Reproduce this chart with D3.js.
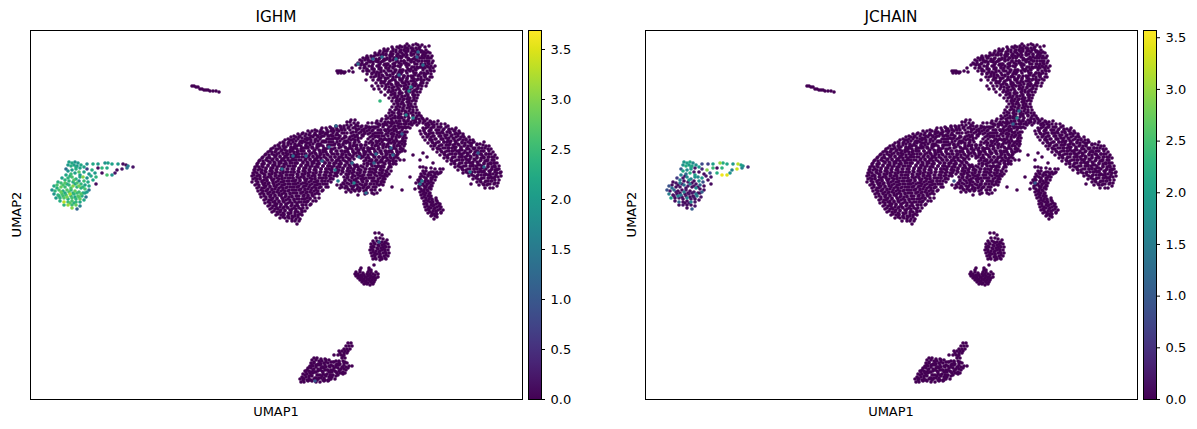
<!DOCTYPE html>
<html>
<head>
<meta charset="utf-8">
<script src="https://cdn.jsdelivr.net/npm/d3@7"></script>
<style>
html,body{margin:0;padding:0;background:#fff}
svg{display:block;font-family:"DejaVu Sans",sans-serif}
</style>
</head>
<body>
<svg id="fig" width="1197" height="429"></svg>
<script>
// Embedding coordinates of the cells with no signal in either gene.
// Each run is [umap2, umap1, umap1, ...]; the vertical embedding axis runs downward.
const cellRows = [
// upper lobe
[46,400,405,409],[45,413,418,422],[47,392,397,402],[48,407,411,416],[47,420,425],
[49,384,388,393],[50,396,401,404],[49,408,413],[50,417,420,426],[44,407,416],
[51,380,384,387],[52,391,396,400],[51,405,408,412],[52,416,421,424,428],[46,429],
[53,375,379,383],[54,386,391,393,398],[53,402,406,411],[54,414,418,423],[53,426,430],
[56,367,371,374],[55,378,381,386],[56,390,392,397,400],[55,403,407,412],[57,415,418],[56,422,425,428,432],
[58,363,368,372],[59,376,379,384,387],[58,390,395,398],[57,402,406],[59,409,413,416],[58,420,424,427,431],
[60,360,365,368],[61,371,376,378,383],[60,385,390,393],[61,397,401,404],[60,408,411,416],[61,419,422,427,429,433],
[63,358,362,367],[62,370,373,378,381],[64,385,388,393],[63,395,399,404,406],[62,411,414],[64,417,421,425],[63,428,432],
[65,356,361,364],[66,369,372,377],[65,379,384,387],[66,390,395,398],[65,401,406,409],[67,412,417,420],[66,424,427,431,435],
[68,360,364],[69,367,372,374,379],[68,381,386,389,393],[70,396,400,403],[69,408,411,415],[68,418,423,425,430,433],
[71,363,367,369],[72,374,377,381],[71,384,389,391],[72,395,399,402],[71,406,410,413],[73,416,421,424],[71,427,431,434],
[74,367,372,376],[75,379,382,387,390],[74,393,398,401],[76,404,408,413],[75,415,419,424],[74,426,431],
[77,371,374,379],[78,381,385,388],[77,393,396,399],[78,403,407,412],[79,414,418],[77,421,425,430,432],
[80,366,373,378],[81,381,385,390],[80,392,395,400,402],[81,406,411,413],[80,417,421,424,429],
[83,376,381,384],[84,388,391,396],[83,398,403,405],[84,409,413,416],[83,421,423,427],
[86,372,378,382],[87,386,389,394],[86,397,401,404],[87,408,412],[86,415,418,422,426],
[89,374,379,385],[90,389,393,396],[89,399,404,407],[90,410,415],[89,417,421],
[92,381,388,391],[93,395,399,402],[92,406,410,413,417,420],
[95,385,391,395],[96,398,402,405],[95,408,413,415,418],
[98,389,393,397],[99,400,404,407],[98,410,414,417],
[101,392,396,399],[102,402,407],[101,409,412,416],
[104,394,398,401],[105,404,408],[104,411,415],[107,392,396,400],[108,403,407],[107,409,413,416],
[110,390,395,399],[111,402,405,409],[110,413,417],
// infill of the upper lobe
[48,399,405,412,419],[51,386,393,400,407,414,422],[55,376,383,390,397,404,411,418,425],
[58,366,373,380,387,394,401,408,415,422,429],[61,362,369,376,383,390,397,404,411,418,425],
[64,359,366,373,380,387,394,401,408,415,422,429],[67,365,372,379,386,393,400,407,414,421,428],
[70,367,374,381,388,395,402,409,416,423,430],[73,372,379,386,393,400,407,414,421,428],
[76,376,383,390,397,404,411,418,425],[79,379,386,393,400,407,414,421,427],
[82,383,389,396,402,408,415,422],[85,386,392,399,406,413,420],[88,392,398,405,412,418],
[91,393,400,407,414],[94,393,400,407,413],[97,395,402,408,414],[100,397,403,409,414],
[103,397,403,409],[106,398,404,411],[109,397,403,410],[112,392,399,406,413],
[115,392,399,406,413,419],[118,388,395,402,409,416,422],[121,392,400,408,415,425],[124,378,385,392,399,406,426,432],
// outlying cells beside the upper lobe
[71,337,339,341],[72,343,345],[71,349],[72,353],[73,338,341,344],[68,352],
// central body with its left flank
[113,389,394,398],[114,401,405,408],[113,411,416,419],
[116,386,390,395],[117,398,401,405],[116,408,413,417,421],
[119,382,386,391],[118,393,398,400],[120,404,408,413],[119,416,419,423,427],
[120,351,355],[121,377,381],[122,385,388,392],[121,396,399,404],[122,406,411,416],[121,420,424,430],
[122,347,350],[123,354,358],[123,368,372,376],[124,379,383,386],[123,390,394,397],[124,401,404,409,411],[123,414,419,423,428],
[126,336,340,344],[125,347,351,356],[126,358,362,366],[127,369,374,376],[125,380,384,387],[126,391,395,398],[127,402,405,408],[125,412,417],
[128,322,326,331],[129,333,337,341],[128,344,348,353],[129,356,359,364],[128,366,370,375],[130,378,381,385],[129,388,393,396],[128,399,403,406,410],
[131,308,312,317],[132,320,323,328],[131,331,334,339],[130,342,345],[132,353,356,361],[131,364,367,372],[133,375,379,382],[131,386,389,394],[132,397,400,405,407],
[134,298,302,306],[135,309,314,316],[134,320,325,327],[135,331,336,338],[133,342,347],[135,354,357,362],[134,364,368,373],[136,375,379,384],[134,386,391,394],[135,397,401,405],
[137,291,296,299],[138,302,307,310],[137,313,318,321],[136,324,329,332],[138,335,339,344],[137,346,350,355],[138,358,361],[137,370,375,378],[139,381,385,389],[137,392,396,399],[138,403,406],
[140,285,290,292],[141,296,301,303],[140,307,311,315],[141,318,323,325],[139,329,333,337],[141,340,345,347],[140,351,355,358],[141,371,376,379],[140,383,387,390],[141,394,397,402,405],
[143,280,284,288],[144,291,295,299],[143,302,307,309],[144,313,318,320],[142,324,329,331],[144,335,339,343],[143,346,350,354],[145,357,361,366],[143,369,373,377],[144,380,384,388],[143,391,395,399],[144,402,405],
[146,275,279,283],[147,286,291,294],[146,297,301,306],[147,308,312,317],[146,319,323,328],[145,330,334,339],[147,341,345,350],[146,353,356,361],[148,364,368,372],[146,375,378,383],[147,386,389,394],[146,397,400,404],
[149,271,276,278],[150,282,285,290],[149,293,297,301],[148,304,308,312],[150,315,319,323],[149,326,331,333],[151,337,341,345],[149,348,352,356],[150,359,363,368],[149,370,374,378],[151,381,385,389],[149,392,396,400,403],
[152,268,272,275],[153,279,283,286],[152,290,294,297],[151,301,304,309],[153,312,315,320],[152,323,326,331],[154,334,337,342],[152,345,348,353],[153,356,359,364],[152,366,370,375],[153,377,381,386],[152,389,392,397,400],
[155,265,269,274],[156,276,280,285],[155,287,291,296],[154,298,302,306],[156,309,313,317],[155,320,324,328],[157,331,335,339],[155,342,346,350],[156,353,357,361],[155,364,368,373],[157,375,379,383],[155,386,390,394,397],
[158,262,267,270],[159,273,277,282],[158,284,288,293],[157,295,299,304],[159,306,310,315],[158,317,321,326],[160,328,332,337],[158,339,343,348],[159,350,354],[158,361,366,369],[160,372,376,381],[158,383,387,391,394,398],
[161,259,263,268],[162,270,274,279],[161,281,285,290],[160,292,296,301],[162,303,307,312],[161,314,318,323],[163,325,329,334],[161,336,340,345],[162,347,351],[161,364,369,371],[162,375,380,382],[161,386,390,393,396],
[164,257,262,264],[165,268,273,275],[164,279,284,286],[163,290,295,297],[165,301,306,308],[164,312,317,319],[166,323,328,330],[164,334,339,341],[165,345,349,354,357],[164,364,368,371],[166,375,379,382],[164,385,390,393,396],
[167,255,259,263],[168,266,271,273],[167,277,282,284],[166,288,293,295],[168,299,304,306],[167,310,315,318],[169,321,326,329],[167,332,337,340],[168,343,348,351],[167,355,358,363],[169,366,370,373],[167,377,381,384,389,391],
[170,254,258,262],[171,265,270,272],[170,276,281,283],[169,287,292,294],[171,298,303,305],[170,309,314,316],[172,320,325,327],[170,331,336,339],[171,342,347,350],[170,353,358,361],[172,364,369,372],[170,375,380,383],[171,386,391],
[173,253,257,262],[174,264,269,272],[173,275,280,283],[172,286,291,294],[174,297,302,305],[173,308,313,316],[175,319,324,326],[173,330,335,337],[174,341,346,349],[173,352,357,360],[175,363,368,371],[173,374,379,382],[174,385,389],
[176,252,257,260],[177,264,268,271],[176,275,279,282],[175,286,290,293],[177,297,301,304],[176,308,312,315],[178,319,323,326],[176,329,334,337],[177,344,348,352],[176,355,360,362],[178,366,371,373],[176,377,382,384,387],
[179,253,257,260],[180,264,267,272],[179,274,279,282],[178,285,290,293],[180,296,300,305],[179,307,312,315],[181,318,322,325],[179,330,333],[180,345,349,354],[179,356,361,364],[181,367,372,375],[179,378,383,385],
[182,252,258,262],[183,265,269,273],[182,276,281,283],[181,287,292,294],[183,298,303,305],[182,309,314,316],[184,320,325,327],[182,331],[183,343,347,352],[182,355,358,363],[184,366,370,374],[182,377,381,384],
[185,255,259,264],[186,266,270,274],[185,277,282,284],[184,288,293,295],[186,299,304,306],[185,310,315,317],[187,321,326,328],[185,337,341],[186,346,351,354],[185,357,362,365],[187,368,373,376],[185,379,383],
[188,257,262,264],[189,268,272,275],[188,279,283,286],[187,290,294,297],[189,301,305,308],[188,312,316,319],[190,323],[188,340,345],[189,348,352,357],[188,360,363,367],[190,371,375,380],
[191,258,263,266],[192,270,274,277],[191,281,285,288],[190,292,296,299],[192,303,307,310],[191,314,318,322],[192,346,351],[191,355,359,364],[193,367,372,377],
[194,260,264,268],[195,271,275,279],[194,282,286,290],[193,293,297,301],[195,304,308,312],[194,315,319],[195,358],[194,365,374],
[197,261,266,270],[198,273,277,282],[197,285,289,292],[196,296,299,304],[198,307,310,315,319],
[200,264,269,271],[201,275,279,283],[200,286,290,294],[199,297,302,304],[201,308,313,316],
[203,265,270,275],[204,277,281,286],[203,288,292,297],[202,299,304,307],[204,311],
[206,268,273,276],[207,280,284,287],[206,291,295,298],[205,302,306,310],
[209,270,275,278],[210,281,285,290],[209,292,296,301],[208,303,307],
[212,272,277,280],[213,283,288,291],[212,295,298,302],[211,305],
[215,276,281,284],[216,288,292,295],[215,298,302],
[218,280,285,289],[219,292,296,300],[221,287,292,295,299],[224,297],
[160,400,404],[151,405],
// infill of the central body
[127,330,336,341,349,355,361,367,372,378,383,389,394,400,405],
[130,315,321,327,332,337,350,357,362,369,373,380,385,391,396,402],
[133,303,310,315,322,326,333,337,344,351,359,365,370,377,381,388,392,399,403],
[136,294,300,305,311,318,322,328,333,340,345,352,357,363,372,377,382,388,393,400,404],
[139,288,294,298,305,309,316,320,327,331,337,342,349,353,368,373,380,385,392,396,403],
[142,283,289,293,300,305,311,315,322,326,333,337,344,348,355,359,366,371,377,382,389,393,400,404],
[145,278,284,288,295,299,306,310,317,321,328,332,339,343,350,354,361,365,372,376,383,387,394,398],
[148,273,280,284,291,295,302,306,313,317,324,328,335,339,346,350,357,361,368,372,379,383,390,394,401],
[151,270,276,281,287,292,298,303,309,314,320,325,331,336,342,347,353,358,364,369,375,380,386,391,397,402],
[154,266,272,277,283,288,294,299,305,310,316,321,327,332,338,343,349,354,360,365,371,376,382,387,393,398],
[157,263,269,275,280,286,291,297,302,308,313,319,324,330,335,341,346,352,363,368,374,379,385,390,396],
[160,260,266,272,277,283,288,294,299,305,310,316,321,327,332,338,343,349,366,371,377,382,388,393],
[163,258,264,270,275,281,286,292,297,303,308,314,319,325,330,336,341,347,352,367,373,378,384,389,394],
[166,257,262,268,273,279,284,290,295,301,306,312,317,323,328,334,339,345,350,356,361,367,372,378,383,390],
[169,255,260,266,271,277,282,288,293,299,304,310,315,321,326,332,337,343,348,354,359,365,370,376,381,388],
[172,255,261,266,272,277,283,288,294,299,305,310,316,321,327,332,338,343,349,354,360,365,371,376,382,387],
[175,254,259,265,270,276,281,287,292,298,303,309,314,320,325,331,336,347,353,358,364,369,375,380,386],
[178,255,260,266,271,277,282,288,293,299,304,310,315,321,326,331,347,352,358,363,369,374,380,384],
[181,256,262,267,273,278,284,289,295,300,306,311,317,322,328,345,351,356,362,367,373,378,382],
[184,257,263,268,274,279,285,290,296,301,307,312,318,323,344,349,355,360,366,371,377,381],
[187,259,265,270,276,281,287,292,298,303,309,314,320,342,347,353,358,364,369,375],
[190,261,267,272,278,283,289,294,300,305,311,316,349,354,360,366,372],
[193,262,268,273,279,284,290,295,301,306,312,317],
[196,264,270,275,281,286,292,297,303,308,313],
[199,266,272,277,283,288,294,299,305,310],
[202,268,273,279,284,290,295,301,306],
[205,270,275,281,286,292,297,303],
[208,272,277,283,288,294,299],
[211,274,280,285,291,296,302],
[214,278,284,289,295,300],
[217,283,288,293,298],
// right wing
[122,431,434],[121,438],[125,426,429,434],[124,437,441,445],[126,448],
[128,423,426,431],[127,433,438,441],[129,444,449,452],[128,456],
[131,420,424,429],[130,431,436,439],[132,442,447,450],[131,454,459],
[134,421,426,429],[133,433,437,440],[135,445,447,452],[134,455,458,463],
[137,423,427,431],[136,434,439,441],[138,446,449,453],[137,456,461,464,469],
[140,425,430,432],[139,436,441,443],[141,448,451,455],[140,458,463,466,470,473],
[143,428,433,436],[142,439,444,447],[144,450,455,458],[143,462,465,470,472],[144,477,480],[142,484],
[146,431,434,439],[145,442,446,449],[147,454,456,461],[146,464,468,471],[148,475,479,482],[146,486,489],
[149,433,438,440],[148,445,448,452],[150,455,460,462],[149,467,469,474],[151,477,481,484],[149,488,491],
[152,437,442,445],[151,449,452,457],[153,459,464,467],[152,470,475,478],[154,481,486,489],[152,493],
[155,440,445,448],[154,452,455,460],[156,462,467,470],[155,474,477,482],[157,484,488,492],[155,495],
[158,444,448,452],[157,455,460,462],[159,466,470,474],[158,477,481,484],[160,488,492,494],[158,497],
[161,447,452,455],[160,459,462,467],[162,469,473,477],[161,480,485,487],[163,491,494,497],
[164,451,455,459],[163,462,466,470],[165,473,478,480],[164,484,488,491],[166,495,499],
[167,455,460,462],[166,466,471,473],[168,477,482,484],[167,488,492,495],[169,499],
[170,458,463,466],[169,470,474,477],[171,481,484,489],[170,491,495,497],[172,501],
[173,463,468,471],[172,475,479,482],[174,486,490,493],[173,497,500],
[176,469,474,477],[175,481,485,488],[177,491,495,498],[176,501],
[179,473,478,481],[178,484,489,492],[180,495,499],
[182,477,481,485],[181,488,491],[183,495,498],
[185,479,484,487],[184,490,494],[186,497],[188,485,490,493],[184,471],
// infill of the right wing
[127,428,434,440,446],[130,424,430,437,443,449,455],[133,425,431,438,443,450,456,460],
[136,428,433,440,445,451,458,463],[139,430,435,442,448,454,460,466],[142,432,438,444,450,456,462,468,474],
[145,435,441,447,453,459,465,471,477,483],[148,437,443,449,455,461,467,473,479,485],
[151,441,447,453,459,465,471,477,483,489],[154,444,450,456,462,468,474,480,486,491],
[157,447,453,459,465,471,477,483,489,494],[160,451,457,463,469,475,481,487,493],
[163,454,460,466,472,478,484,490,495],[166,458,464,470,476,482,488,494],
[169,462,468,474,480,486,492,497],[172,466,472,478,484,490,495],[175,472,478,484,490,496],
[178,476,482,488,494],[181,480,486,492],[184,483,488],
// lower leg and its stragglers
[155,413],[153,423],[160,420],[157,427],[163,433],[167,420,423],[177,410],[187,392],[190,402],
[168,426,431],[169,435,440,443],
[171,423,426],[172,431,433,437,441],
[174,421,425],[175,428,431],[174,435,438],
[177,420,424],[178,426,431],[177,433,436],
[180,418,421],[181,425,428],[180,431,435],
[183,416,420],[184,423,427],[183,429,433],
[186,419,424],[187,426,430],[186,432],
[189,415,421],[190,424,427],[189,431],
[192,420,424],[193,426,430],
[195,421,425],[196,428,431],
[198,422,426],[199,429,432],[198,436],
[201,424,428],[202,430,433],[201,437],
[204,424,427],[205,431,434],[204,436,440],
[207,425,429],[208,431,435],[207,437,441],
[210,426,429],[211,433,436],[210,438,443],
[213,428,432],[214,434,437],[213,441],
[216,431,435],[217,437],[219,434],
[173,424,429,435,440],[176,422,428,434],[179,420,426,432],[182,419,425,431],[185,421,427,431],
[188,419,425,429],[191,422,428],[194,423,429],[197,424,430],[200,426,432,436],[203,426,432,438],
[206,427,433,439],[209,428,434,440],[212,430,436,441],[215,432,436],
// thin strand near the top left
[86,192,194],[87,196,198],[89,200,202],[90,204,206,208],[91,210,213,216],[92,219],
// isolated clusters under the body
[233,375,379],[235,382],[240,387],
[238,376,380],[239,383],
[241,373,377],[242,379,382,385],
[244,371,375],[245,378,382],[244,384,388],
[247,371,374],[248,377,381],[247,383,386,389],
[250,370,373],[251,376,380],[250,382,385,388],
[253,371,375],[254,377,380],[253,383,386,389],
[256,372,375],[257,379,381],[256,384,388],
[259,373,376],[260,380],[259,382,386],
[243,374,380,386],[246,373,379,385],[249,372,378,384],[252,373,379,385],[255,374,380,386],[258,375,381,385],
[265,374],[268,361,369],
[270,360,369,371],
[272,356,360],[273,363],[272,368,371,376],
[274,355,358],[275,361,364],[274,367,370,373,378],
[276,356,359],[277,362,365],[276,368,371],[277,374,378],
[278,358,361],[279,364,367],[278,370,373,376],
[280,360,363],[281,366],[280,369,372,375],
[282,362,366],[283,368],[282,371,374],
[284,364,367],[285,370],[284,373],
[275,357,363,369,375],[277,360,366,372],[279,362,368,374],[281,364,370],[283,366,372],
// cluster at the bottom
[343,348,351],[346,346,349,352],[349,344,347,350],[351,339,342,345,348],
[353,340,344,347],[355,334,338,341,344],[356,343],
[358,314,317],[359,321,325],[358,342,345],
[360,312,316],[361,319,322],[360,326,329],[361,336,339,343],
[363,311,314],[364,318,321],[363,324,328],[362,331,334],[364,337,340],[363,344,347],
[366,310,313],[365,316,320],[367,323,326],[366,329,333],[365,336,339],[367,342,346],[366,349,352],
[368,308,311],[369,314,318],[368,321,324],[370,328,331],[368,334,338],[369,341,344],[368,348],
[371,305,309],[372,312,315],[371,318,322],[370,325],[372,329,332],[371,335,339],[373,342,345],
[374,303,307],[373,310,313],[375,317,320],[374,323,327],[375,330,333],[373,337,340],[374,343],
[377,302,306],[376,309,312],[378,315,319],[376,322,326],[377,329,332],[376,336],
[379,300,304],[380,307,311],[379,314,318],[378,321],[380,325,328],[379,331,335],
[382,301,304],[381,308,312],[382,316,320],[381,324,328],
[362,314,320,326,333,339,345],[365,312,318,325,331,338,344],[367,310,316,322,330,336,343],
[370,307,313,320,327,333,340,346],[372,306,310,316,323,330,336,343],[375,305,311,318,325,331,338],
[378,303,309,316,324,330],[380,303,309,317,323,329]
];

// Cells of the small plasma cluster: [umap1, umap2, IGHM, JCHAIN].
const plasmaCells = [
[69,162,2.1,1.9],[72,163,2.2,2.0],[75,162,1.9,2.1],[78,163,2.0,1.7],[81,165,2.2,1.8],
[68,165,2.0,1.8],[71,166,2.3,2.2],[74,165,2.1,1.9],[77,166,1.9,2.0],[87,164,1.8,0.8],
[93,164,2.2,0.7],[98,164,2.0,2.0],[105,163,1.9,3.0],[108,163,2.1,2.2],[112,164,2.1,2.1],
[118,164,2.0,1.9],[123,164,0.1,3.2],[128,166,1.5,1.8],[133,167,0.2,0.4],[126,165,0.1,2.0],
[87,169,0.7,0.4],[92,170,2.3,2.9],[98,168,0.1,2.4],[102,168,2.4,0.1],[107,168,2.2,2.3],
[95,173,2.0,0.9],[102,173,0.1,2.2],[112,175,1.9,3.4],[117,170,0.1,1.6],[122,169,0.2,3.3],
[127,168,1.4,1.5],[107,175,2.6,3.5],[115,173,0.2,1.8],[89,174,1.9,0.1],[84,172,2.1,0.1],
[80,168,2.1,0.2],[72,170,2.0,1.7],[76,169,2.3,1.8],[68,171,1.9,2.1],[71,174,2.5,1.3],
[75,173,2.1,2.2],[79,172,2.7,0.2],[83,177,3.0,1.7],[66,175,2.2,1.6],[87,178,1.9,1.9],
[91,176,2.2,0.2],[93,180,2.1,0.1],[96,184,0.1,0.1],[62,178,2.1,0.6],[65,180,2.4,1.4],
[68,178,2.4,0.2],[72,177,2.6,1.7],[76,179,2.3,1.5],[80,177,2.1,1.8],[84,181,2.5,1.8],
[88,182,2.2,0.9],[58,182,2.3,0.1],[61,183,2.5,0.2],[65,183,2.7,1.5],[69,181,2.4,0.1],
[73,182,2.3,0.2],[77,183,2.6,0.1],[81,184,2.4,0.2],[85,185,2.1,1.2],[89,186,2.2,0.1],
[54,186,2.2,0.9],[57,185,2.6,0.1],[61,187,2.8,0.1],[65,187,2.5,0.2],[69,185,2.4,1.3],
[73,186,3.0,0.2],[77,187,2.4,0.1],[81,188,2.3,1.7],[85,189,2.6,0.1],[89,190,1.4,0.1],
[52,190,1.8,0.9],[55,191,2.4,0.2],[59,190,2.6,1.2],[63,191,2.3,0.1],[67,190,2.7,0.1],
[71,190,2.4,0.2],[75,191,2.8,0.1],[79,192,2.5,0.2],[83,193,2.2,0.1],[87,192,2.0,1.1],
[54,194,1.9,1.5],[58,195,2.4,0.1],[62,194,2.6,0.1],[66,195,2.5,1.4],[70,194,3.2,0.1],
[74,194,2.4,0.2],[78,196,2.7,0.1],[82,196,2.3,1.5],[86,197,1.4,0.2],[56,198,2.0,2.0],
[60,198,2.4,0.1],[64,198,2.7,0.2],[68,199,2.3,0.1],[72,198,2.6,1.6],[76,199,2.4,0.2],
[80,199,2.8,0.1],[84,200,2.2,0.1],[60,201,2.3,0.1],[64,202,3.3,1.2],[68,202,2.5,0.1],
[72,201,2.6,0.1],[76,202,2.4,1.6],[80,202,2.2,0.2],[64,205,2.4,0.1],[68,205,3.1,0.2],
[72,205,2.5,0.1],[76,205,2.8,0.1],[80,206,1.6,0.2],[72,208,3.0,0.1],[77,209,1.2,1.0],
[80,175,2.0,2.0],[84,167,2.1,1.9],[76,167,2.2,2.1],[66,169,1.3,1.0],[96,177,2.4,0.2],
[70,176,2.3,0.2],[74,180,2.7,1.9],[79,181,1.8,0.1],[63,185,2.6,0.1],[67,184,2.2,0.2],
[71,188,2.6,0.1],[75,184,2.1,1.4],[79,186,2.9,0.2],[83,187,2.4,0.1],[57,188,2.3,1.3],
[61,192,2.8,0.2],[65,193,2.2,0.1],[69,192,2.6,1.5],[73,193,2.3,0.1],[77,193,2.5,0.2],
[81,194,2.7,1.4],[85,193,2.1,0.1],[59,196,2.3,0.2],[63,196,2.5,1.6],[67,197,2.9,0.1],
[71,196,2.4,0.2],[75,197,2.2,0.1],[79,197,2.6,0.2],[70,203,2.7,0.1],[74,203,2.3,0.2]
];

// Cells elsewhere that express one of the genes: [umap1, umap2, value].
const ighmOutliers = [
[336,126,1.3],[329,147,1.2],[306,156,1.3],[293,156,1.3],[322,161,1.2],[282,169,1.4],
[335,170,1.5],[338,181,1.5],[354,183,1.7],[366,193,1.4],[352,163,1.3],[359,157,1.2],
[376,154,1.3],[374,163,1.2],[391,148,1.1],[393,155,1.2],[402,134,1.1],[406,115,1.7],
[413,118,1.6],[422,181,1.5],[420,184,1.4],[478,153,1.1],[484,167,1.3],[470,172,1.5],
[358,64,1.3],[373,59,1.2],[382,57,1.3],[396,59,1.3],[418,52,1.2],[417,57,1.1],
[423,65,1.3],[399,75,1.2],[411,87,1.6],[409,91,1.8],[380,101,2.4],[379,242,1.1],[315,381,1.0]
];
const jchainOutliers = [
[402,118,1.6],[398,124,1.1],[420,183,1.0],[339,181,0.9],[404,111,1.3]
];

const genes = ["IGHM", "JCHAIN"];
const geneMax = [3.69, 3.57];
const barTicks = [
  [0, 0.5, 1, 1.5, 2, 2.5, 3, 3.5],
  [0, 0.5, 1, 1.5, 2, 2.5, 3, 3.5]
];
const xLabel = "UMAP1";
const yLabel = "UMAP2";

// Two panels share one embedding; the second is shifted along the figure.
const panelLeft = [30, 645];
const panelWidth = 492, panelTop = 30, panelHeight = 369;
const barGap = 6, barWidth = 13;

const x = d3.scaleLinear().domain([30, 522]).range([0, panelWidth]);
const y = d3.scaleLinear().domain([399, 30]).range([panelHeight, 0]);

const zeroCells = cellRows.flatMap(r => r.slice(1).map(u => ({u, v: r[0], value: 0})));

const svg = d3.select("#fig");
const defs = svg.append("defs");
defs.append("linearGradient").attr("id", "viridisBar")
    .attr("x1", 0).attr("x2", 0).attr("y1", 1).attr("y2", 0)
  .selectAll("stop").data(d3.range(0, 1.0001, 0.05)).join("stop")
    .attr("offset", d => d)
    .attr("stop-color", d => d3.interpolateViridis(d));

genes.forEach((gene, i) => {
  const color = d3.scaleSequential(d3.interpolateViridis).domain([0, geneMax[i]]);
  const outliers = (i === 0 ? ighmOutliers : jchainOutliers)
    .map(d => ({u: d[0], v: d[1], value: d[2]}));
  const plasma = plasmaCells.map(d => ({u: d[0], v: d[1], value: d[2 + i]}));
  // Highest expression is painted last so it stays visible.
  const cells = zeroCells.concat(outliers, plasma).sort((a, b) => a.value - b.value);

  const g = svg.append("g").attr("transform", `translate(${panelLeft[i]},${panelTop})`);
  g.append("rect").attr("width", panelWidth).attr("height", panelHeight).attr("fill", "#fff");
  g.selectAll("circle").data(cells).join("circle")
    .attr("cx", d => x(d.u)).attr("cy", d => y(d.v)).attr("r", 1.8)
    .attr("fill", d => color(d.value));
  g.append("rect").attr("x", 0.5).attr("y", 0.5).attr("width", panelWidth).attr("height", panelHeight)
    .attr("fill", "none").attr("stroke", "#000").attr("stroke-width", 1);

  g.append("text").attr("x", panelWidth / 2).attr("y", -8.5)
    .attr("text-anchor", "middle").attr("font-size", 15.3).text(gene);
  g.append("text").attr("x", panelWidth / 2).attr("y", panelHeight + 17)
    .attr("text-anchor", "middle").attr("font-size", 13).text(xLabel);
  g.append("text").attr("transform", `translate(-9.5,${panelHeight / 2}) rotate(-90)`)
    .attr("text-anchor", "middle").attr("font-size", 13).text(yLabel);

  // Colour bar
  const bar = g.append("g").attr("transform", `translate(${panelWidth + barGap},0)`);
  bar.append("rect").attr("x", 0.5).attr("y", 0.5).attr("width", barWidth).attr("height", panelHeight)
    .attr("fill", "url(#viridisBar)").attr("stroke", "#000").attr("stroke-width", 1);
  const barScale = d3.scaleLinear().domain([0, geneMax[i]]).range([panelHeight, 0]);
  const axis = bar.append("g").attr("transform", `translate(${barWidth},0)`)
    .call(d3.axisRight(barScale).tickValues(barTicks[i]).tickFormat(d3.format(".1f")).tickSize(4).tickPadding(5.5));
  axis.select(".domain").remove();
  axis.selectAll("text").attr("font-size", 13).attr("font-family", '"DejaVu Sans",sans-serif').attr("fill", "#000");
  axis.selectAll("line").attr("stroke", "#000");
});
</script>
</body>
</html>
